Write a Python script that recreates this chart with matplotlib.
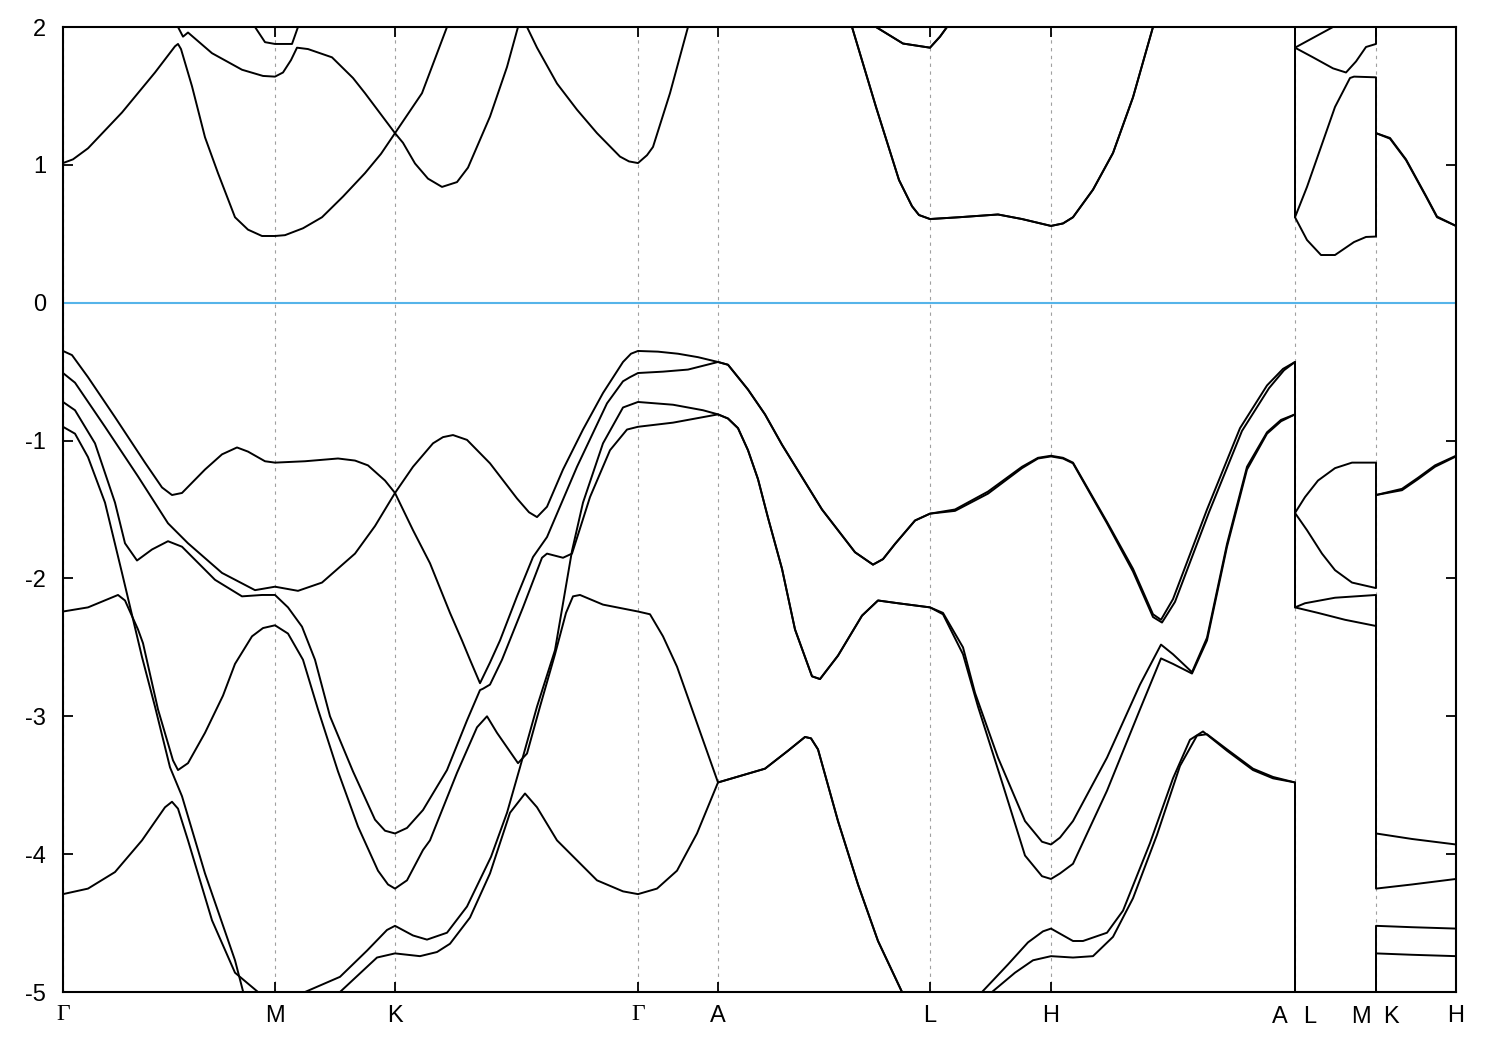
import matplotlib
matplotlib.use("Agg")
import matplotlib.pyplot as plt

plt.rcParams['font.family'] = ['Liberation Sans', 'DejaVu Sans']
plt.rcParams['axes.unicode_minus'] = False

# high-symmetry points along the k-path (path coordinate, arbitrary units)
sym_k = [0, 212, 332, 575, 655, 867, 988, 1232, 1313, 1393]
sym_labels = ["Γ", "M", "K", "Γ", "A", "L", "H", "", "", "H"]
# A|L and M|K are discontinuities: two labels share one position
split_labels = [(1232, "A", "L"), (1313, "M", "K")]

E_MIN, E_MAX = -5, 2
E_FERMI = 0.0

# bands as (k, energy in eV); repeated k = jump at a path discontinuity
band_v1 = [(0, -0.35), (9, -0.38), (25, -0.54), (52, -0.83), (82, -1.16), (99, -1.34),
           (109, -1.395), (119, -1.38), (142, -1.21), (159, -1.10), (174, -1.05), (185, -1.08),
           (202, -1.15), (212, -1.16), (242, -1.15), (275, -1.13), (292, -1.145), (305, -1.18),
           (322, -1.29), (332, -1.38), (350, -1.19), (370, -1.02), (380, -0.975), (390, -0.96),
           (404, -0.995), (427, -1.165), (454, -1.42), (466, -1.52), (474, -1.555), (484, -1.48),
           (500, -1.21), (520, -0.92), (540, -0.655), (560, -0.43), (568, -0.37), (575, -0.35),
           (595, -0.355), (615, -0.37), (635, -0.395), (655, -0.43),
           (665, -0.45), (675, -0.54), (685, -0.63), (702, -0.81), (719, -1.03), (759, -1.50),
           (792, -1.81), (810, -1.90), (820, -1.86), (832, -1.75), (852, -1.58), (867, -1.53),
           (892, -1.50), (925, -1.37), (959, -1.19), (975, -1.125), (988, -1.11), (1000, -1.125),
           (1010, -1.16), (1044, -1.59), (1070, -1.93), (1090, -2.26), (1098, -2.30),
           (1110, -2.15), (1144, -1.50), (1177, -0.91), (1204, -0.60), (1220, -0.48), (1232, -0.43),
           (1232, -1.525), (1242, -1.41), (1255, -1.29), (1272, -1.20), (1289, -1.16), (1313, -1.16),
           (1313, -1.395), (1339, -1.35), (1355, -1.27), (1372, -1.18), (1393, -1.11)]

band_v2 = [(0, -0.51), (12, -0.58), (42, -0.90), (75, -1.26), (105, -1.60), (125, -1.745),
           (159, -1.96), (192, -2.085), (212, -2.06), (235, -2.09), (259, -2.03), (292, -1.82),
           (312, -1.62), (332, -1.38), (350, -1.65), (367, -1.89), (387, -2.25), (399, -2.45),
           (407, -2.59), (417, -2.76), (427, -2.61), (437, -2.45), (454, -2.13), (470, -1.845),
           (484, -1.70), (514, -1.19), (544, -0.73), (560, -0.57), (567, -0.54), (575, -0.51),
           (600, -0.50), (625, -0.485), (655, -0.43),
           (665, -0.45), (675, -0.54), (685, -0.63), (702, -0.81), (719, -1.03), (759, -1.50),
           (792, -1.81), (810, -1.90), (820, -1.86), (832, -1.75), (852, -1.58), (867, -1.53),
           (892, -1.51), (925, -1.385), (959, -1.20), (975, -1.13), (988, -1.115), (1000, -1.13),
           (1010, -1.165), (1044, -1.60), (1070, -1.95), (1090, -2.28), (1099, -2.32),
           (1112, -2.17), (1146, -1.52), (1179, -0.93), (1206, -0.62), (1221, -0.49), (1232, -0.43),
           (1232, -1.525), (1244, -1.65), (1259, -1.82), (1272, -1.94), (1289, -2.03), (1313, -2.07),
           (1313, -1.395), (1339, -1.36), (1355, -1.28), (1372, -1.19), (1393, -1.115)]

band_v3 = [(0, -0.72), (12, -0.78), (32, -1.02), (52, -1.45), (62, -1.745), (74, -1.87),
           (89, -1.79), (105, -1.73), (119, -1.77), (152, -2.01), (179, -2.13), (199, -2.12),
           (212, -2.12), (225, -2.21), (239, -2.35), (252, -2.59), (267, -3.0), (290, -3.4),
           (312, -3.75), (322, -3.83), (332, -3.85), (344, -3.81), (360, -3.68), (384, -3.39),
           (404, -3.03), (417, -2.81), (420, -2.80), (427, -2.77), (439, -2.59), (460, -2.21),
           (479, -1.85), (484, -1.82), (500, -1.85), (509, -1.82), (527, -1.41), (547, -1.07),
           (564, -0.92), (575, -0.90), (610, -0.87), (655, -0.81),
           (665, -0.84), (675, -0.91), (685, -1.07), (695, -1.28), (705, -1.56), (719, -1.93),
           (732, -2.37), (749, -2.71), (757, -2.73), (775, -2.56), (799, -2.27), (815, -2.16),
           (835, -2.18), (867, -2.21), (880, -2.25), (900, -2.50), (912, -2.83), (935, -3.30),
           (962, -3.76), (979, -3.91), (988, -3.93), (997, -3.88), (1010, -3.76), (1044, -3.30),
           (1077, -2.77), (1098, -2.48), (1110, -2.55), (1129, -2.68), (1144, -2.43), (1164, -1.75),
           (1184, -1.19), (1204, -0.94), (1218, -0.85), (1232, -0.81),
           (1232, -2.21), (1242, -2.18), (1272, -2.14), (1313, -2.12),
           (1313, -3.85), (1349, -3.89), (1393, -3.93)]

band_v4 = [(0, -0.90), (12, -0.95), (25, -1.12), (42, -1.45), (59, -1.96), (79, -2.57),
           (92, -2.93), (107, -3.37), (119, -3.58), (142, -4.14), (172, -4.77), (182, -5.05),
           (212, -5.5), (242, -5.0), (277, -4.89), (304, -4.70), (324, -4.55), (332, -4.52),
           (350, -4.59), (364, -4.62), (384, -4.57), (404, -4.38), (428, -4.02), (444, -3.70),
           (457, -3.37), (474, -2.93), (492, -2.52), (509, -1.80), (520, -1.45), (540, -1.02),
           (560, -0.76), (575, -0.72), (610, -0.74), (640, -0.78), (655, -0.81),
           (665, -0.84), (675, -0.91), (685, -1.07), (695, -1.28), (705, -1.56), (719, -1.93),
           (732, -2.37), (749, -2.71), (757, -2.73), (775, -2.56), (799, -2.27), (815, -2.16),
           (835, -2.18), (867, -2.21), (880, -2.26), (900, -2.55), (915, -2.93), (940, -3.50),
           (962, -4.01), (979, -4.16), (988, -4.18), (997, -4.14), (1010, -4.07), (1044, -3.54),
           (1077, -2.95), (1098, -2.58), (1110, -2.62), (1129, -2.69), (1144, -2.45), (1164, -1.77),
           (1184, -1.21), (1204, -0.95), (1218, -0.86), (1232, -0.81),
           (1232, -2.21), (1255, -2.25), (1282, -2.30), (1313, -2.345),
           (1313, -4.25), (1349, -4.22), (1393, -4.18)]

band_v5 = [(0, -2.24), (25, -2.21), (55, -2.12), (62, -2.16), (75, -2.37), (80, -2.47),
           (95, -2.95), (110, -3.32), (115, -3.39), (125, -3.34), (142, -3.12), (160, -2.85),
           (172, -2.62), (189, -2.42), (200, -2.36), (212, -2.34), (225, -2.40), (240, -2.59),
           (255, -2.95), (275, -3.40), (295, -3.80), (315, -4.12), (325, -4.22), (332, -4.25),
           (344, -4.19), (360, -3.97), (367, -3.90), (394, -3.41), (414, -3.08), (424, -3.0),
           (434, -3.12), (455, -3.34), (464, -3.27), (477, -2.93), (492, -2.55), (503, -2.25),
           (510, -2.13), (517, -2.12), (540, -2.19), (575, -2.24), (587, -2.26), (600, -2.42),
           (614, -2.64), (634, -3.05), (655, -3.48),
           (702, -3.38), (725, -3.25), (742, -3.15), (748, -3.16), (755, -3.24), (775, -3.76),
           (795, -4.22), (815, -4.63), (839, -5.0), (867, -5.6), (919, -5.0), (945, -4.80),
           (965, -4.64), (980, -4.56), (988, -4.54), (1010, -4.63), (1020, -4.63), (1044, -4.57),
           (1060, -4.41), (1087, -3.92), (1110, -3.45), (1127, -3.17), (1140, -3.11), (1164, -3.25),
           (1190, -3.39), (1210, -3.45), (1232, -3.48),
           (1232, -5.6), (1313, -5.6), (1313, -4.52), (1349, -4.53), (1393, -4.54)]

band_v6 = [(0, -4.29), (25, -4.25), (52, -4.13), (79, -3.90), (102, -3.66), (109, -3.62),
           (115, -3.67), (125, -3.90), (149, -4.48), (172, -4.86), (195, -5.0), (212, -5.6),
           (277, -5.0), (314, -4.75), (332, -4.72), (357, -4.74), (374, -4.71), (387, -4.65),
           (407, -4.46), (427, -4.14), (447, -3.70), (462, -3.56), (474, -3.66), (494, -3.90),
           (534, -4.19), (560, -4.27), (575, -4.29), (594, -4.25), (614, -4.12), (634, -3.85),
           (655, -3.48),
           (702, -3.38), (725, -3.25), (742, -3.15), (748, -3.16), (755, -3.24), (775, -3.76),
           (795, -4.22), (815, -4.63), (839, -5.0), (867, -5.8), (929, -5.0), (952, -4.86),
           (970, -4.77), (988, -4.74), (1010, -4.75), (1030, -4.74), (1050, -4.60), (1070, -4.32),
           (1094, -3.86), (1117, -3.36), (1134, -3.14), (1144, -3.13), (1164, -3.24), (1190, -3.38),
           (1210, -3.44), (1232, -3.48),
           (1232, -5.8), (1313, -5.8), (1313, -4.72), (1349, -4.73), (1393, -4.74)]

band_c1 = [(0, 1.013), (10, 1.04), (25, 1.12), (59, 1.38), (92, 1.67), (112, 1.86), (115, 1.877),
           (118, 1.84), (129, 1.57), (142, 1.20), (155, 0.94), (172, 0.62), (185, 0.53),
           (199, 0.484), (212, 0.484), (222, 0.49), (240, 0.54), (259, 0.62), (280, 0.77),
           (302, 0.94), (318, 1.08), (332, 1.23), (340, 1.16), (352, 1.01), (365, 0.90),
           (379, 0.84), (394, 0.875), (405, 0.98), (427, 1.35), (444, 1.71), (455, 2.0),
           (459, 2.08), (464, 2.0), (474, 1.85), (494, 1.59), (514, 1.40), (534, 1.23),
           (557, 1.06), (566, 1.025), (575, 1.013), (584, 1.07), (590, 1.13), (607, 1.52),
           (625, 2.0), (655, 2.6),
           (789, 2.0), (813, 1.42), (836, 0.89), (849, 0.70), (856, 0.636), (867, 0.607),
           (896, 0.62), (935, 0.64), (959, 0.607), (988, 0.557), (1000, 0.575), (1010, 0.62),
           (1030, 0.82), (1050, 1.086), (1070, 1.49), (1090, 2.0), (1232, 2.6),
           (1232, 0.62), (1244, 0.455), (1258, 0.346), (1272, 0.346), (1291, 0.44), (1303, 0.477),
           (1313, 0.48), (1313, 1.23), (1327, 1.19), (1343, 1.035), (1363, 0.77), (1374, 0.62),
           (1393, 0.557)]

band_c2 = [(0, 2.4), (110, 2.1), (115, 2.0), (120, 1.93), (125, 1.96), (149, 1.81),
           (179, 1.69), (200, 1.645), (212, 1.64), (220, 1.67), (228, 1.76), (234, 1.85),
           (245, 1.84), (269, 1.78), (290, 1.63), (302, 1.52), (332, 1.23), (359, 1.52),
           (384, 2.0), (400, 2.3), (575, 2.5), (655, 2.6),
           (789, 2.0), (813, 1.42), (836, 0.89), (849, 0.70), (856, 0.636), (867, 0.607),
           (896, 0.62), (935, 0.64), (959, 0.607), (988, 0.557), (1000, 0.575), (1010, 0.62),
           (1030, 0.82), (1050, 1.086), (1070, 1.49), (1090, 2.0), (1232, 2.6),
           (1232, 0.62), (1244, 0.84), (1258, 1.13), (1272, 1.42), (1287, 1.63), (1291, 1.64),
           (1313, 1.635), (1313, 1.23), (1327, 1.195), (1343, 1.04), (1363, 0.775), (1374, 0.625),
           (1393, 0.557)]

band_c3 = [(0, 2.8), (180, 2.2), (192, 2.0), (202, 1.89), (212, 1.877), (229, 1.877),
           (235, 2.0), (250, 2.3), (332, 2.8), (655, 3.0),
           (770, 2.3), (813, 2.0), (840, 1.88), (867, 1.85), (877, 1.93), (884, 2.0),
           (900, 2.3), (988, 2.6), (1232, 3.0),
           (1232, 1.85), (1250, 1.78), (1270, 1.70), (1283, 1.67), (1293, 1.75), (1303, 1.855),
           (1313, 1.877), (1313, 2.4), (1393, 2.3)]

band_c4 = [(0, 3.0), (332, 3.0), (655, 3.2),
           (770, 2.3), (813, 2.0), (840, 1.88), (867, 1.85), (877, 1.93), (884, 2.0),
           (900, 2.3), (988, 2.6), (1232, 3.2),
           (1232, 1.85), (1270, 2.0), (1290, 2.2), (1313, 2.4), (1313, 2.8), (1393, 2.7)]

bands = [band_v1, band_v2, band_v3, band_v4, band_v5, band_v6,
         band_c1, band_c2, band_c3, band_c4]

fig = plt.figure(figsize=(15, 10.5), dpi=100)
ax = fig.add_axes([63 / 1500, 1 - 992 / 1050, 1393 / 1500, 965 / 1050])

# dotted lines at the high-symmetry points
for k in sym_k:
    ax.axvline(k, color='#a0a0a0', lw=0.8, ls=(0, (3, 4)), zorder=1)

ax.axhline(E_FERMI, color='#56b4e9', lw=1.5, zorder=2)

for band in bands:
    ks = [p[0] for p in band]
    es = [p[1] for p in band]
    ax.plot(ks, es, color='black', lw=1.4, zorder=3, solid_joinstyle='round')

ax.set_xlim(sym_k[0], sym_k[-1])
ax.set_ylim(E_MIN, E_MAX)
ax.set_yticks(range(E_MIN, E_MAX + 1))
ax.set_xticks(sym_k)
ax.set_xticklabels(sym_labels)

ax.tick_params(axis='both', direction='in', length=7, width=1.3, top=True, right=True,
               labelsize=17)
ax.tick_params(axis='x', pad=9)
ax.tick_params(axis='y', pad=12)
for lab in ax.get_xticklabels():
    if lab.get_text() == "Γ":
        lab.set_family(['Liberation Serif', 'DejaVu Serif'])

# labels of the two discontinuities, placed either side of the shared tick
for k, left, right in split_labels:
    ax.text(k - 15, -0.014, left, transform=ax.get_xaxis_transform(), ha='center',
            va='top', fontsize=17)
    ax.text(k + 15, -0.014, right, transform=ax.get_xaxis_transform(), ha='center',
            va='top', fontsize=17)

for s in ax.spines.values():
    s.set_linewidth(1.5)
    s.set_zorder(4)

plt.savefig('out.png', dpi=100)
